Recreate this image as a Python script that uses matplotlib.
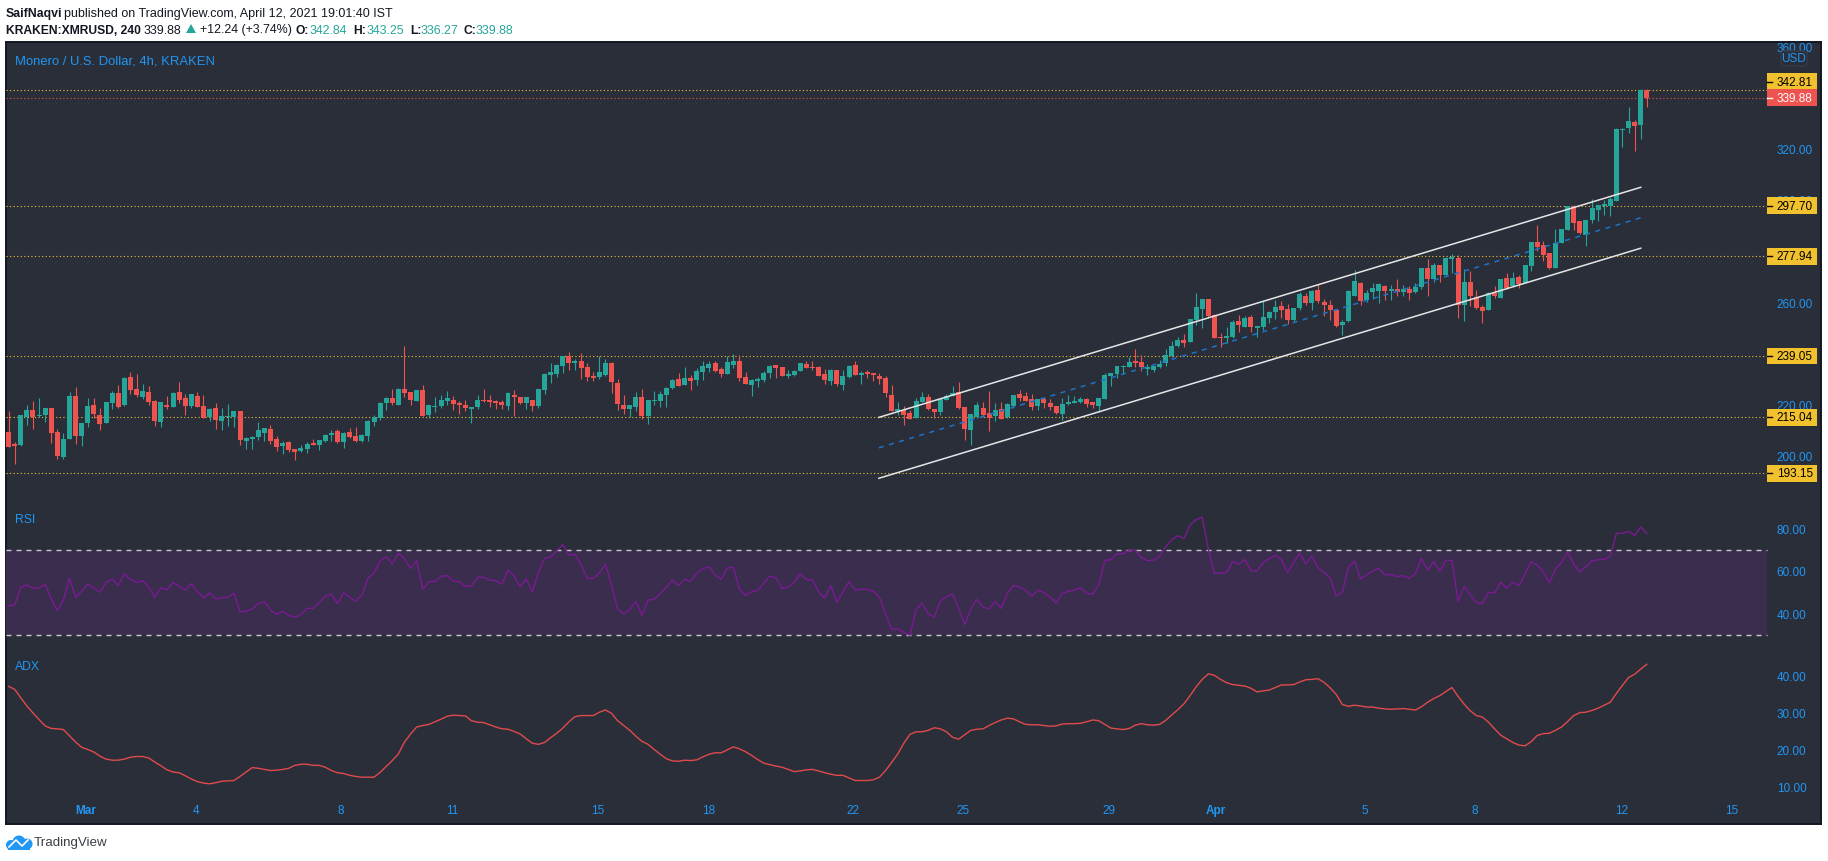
import numpy as np
import matplotlib
matplotlib.use("Agg")
import matplotlib.pyplot as plt
from matplotlib.patches import Rectangle, Circle, Polygon, FancyBboxPatch

plt.rcParams['font.family'] = ['Liberation Sans', 'DejaVu Sans']

# XMR/USD 4h candles
opens = [209.1,204.6,204.2,215.0,217.9,215.5,215.9,218.7,209.3,199.5,206.5,223.3,207.7,212.8,219.8,215.9,212.8,220.6,224.5,219.8,
230.8,226.1,223.0,224.9,221.4,213.2,219.8,219.0,224.9,222.6,219.4,223.3,219.4,215.1,218.7,213.6,215.1,215.1,217.5,205.8,
206.5,207.3,208.9,210.5,206.5,203.8,205.4,202.6,201.9,202.6,205.0,204.2,205.8,208.1,209.7,205.4,209.3,207.7,205.8,207.7,
213.2,214.8,220.6,222.6,219.8,226.1,224.9,221.4,225.7,215.9,219.2,219.4,221.4,221.8,220.6,219.8,218.3,219.0,221.8,221.8,
221.4,221.0,219.4,223.7,223.0,220.6,221.8,219.4,225.7,231.6,231.9,235.1,239.0,236.2,237.0,234.7,231.2,230.8,231.6,236.2,
228.4,219.8,218.3,219.0,223.0,215.5,221.4,221.4,223.7,226.5,230.0,227.7,230.4,229.6,232.7,234.3,236.2,233.9,232.0,235.5,
237.0,230.8,227.7,229.2,229.6,232.3,235.5,234.7,231.2,231.6,233.1,235.8,234.7,234.7,232.0,229.2,233.5,227.7,230.8,235.5,
231.6,232.7,232.3,231.2,230.4,223.7,217.5,217.9,216.7,214.8,221.0,223.0,218.3,217.1,221.8,223.3,224.9,219.0,210.1,215.1,
218.7,216.7,215.5,218.3,215.1,219.4,224.1,223.3,222.2,219.4,222.2,220.6,219.4,216.3,220.2,220.6,221.0,222.2,221.0,219.4,
222.2,231.2,231.9,234.7,234.7,237.0,236.6,233.9,233.5,234.7,236.2,239.0,242.9,245.2,244.5,253.0,257.3,261.3,255.0,246.4,
246.0,246.4,252.6,250.3,254.2,249.9,250.3,253.8,256.2,258.5,257.3,253.0,257.7,262.4,259.7,264.8,260.1,258.9,257.0,251.1,
252.6,262.4,267.5,260.9,264.0,264.4,266.3,264.4,265.2,264.0,265.2,264.0,265.9,273.4,269.1,274.5,270.6,276.9,277.3,258.9,
267.9,262.0,258.1,257.0,263.6,261.6,269.5,266.3,269.8,267.5,274.1,283.5,282.3,279.2,273.4,283.1,288.2,297.5,291.7,286.3,
292.1,296.0,297.6,297.6,299.5,327.4,328.1,330.4,329.3,342.84]
highs = [217.5,205.4,215.9,219.8,221.4,222.6,218.7,218.7,210.5,208.9,224.9,226.9,212.8,222.6,222.6,218.7,221.0,225.3,227.6,230.8,
232.7,232.0,228.0,227.3,221.8,221.0,223.3,224.9,228.8,224.1,224.1,224.9,223.7,218.7,220.6,218.7,220.2,217.5,217.5,207.3,
207.7,213.2,210.8,212.0,207.7,205.8,205.6,202.6,204.2,205.4,206.5,206.2,208.5,210.1,210.5,209.3,210.8,211.2,208.5,214.0,
215.9,221.0,223.0,226.1,226.5,242.9,224.9,225.7,227.6,219.8,223.0,223.7,225.3,223.3,221.4,221.8,219.0,223.7,226.1,223.7,
221.8,221.8,224.9,225.7,223.0,223.0,221.8,226.1,232.3,236.2,235.8,239.0,240.5,237.8,240.1,236.2,232.7,239.0,237.8,236.6,
230.0,223.7,219.8,224.9,226.1,221.8,225.3,225.3,226.9,230.0,232.3,234.7,231.6,234.3,237.0,237.0,237.0,234.7,239.0,239.8,
239.4,232.7,230.0,230.8,233.1,235.5,235.5,234.7,233.5,233.5,236.2,237.0,237.0,235.1,233.9,233.9,233.5,233.5,235.5,237.0,
233.1,233.5,232.3,232.3,231.2,227.7,221.0,219.4,217.9,222.6,224.9,224.1,218.3,222.2,224.1,227.3,228.8,219.0,216.3,221.0,
221.0,225.3,220.6,221.0,220.6,223.7,225.7,224.9,224.1,222.2,223.0,222.2,219.4,222.6,223.7,223.3,223.0,222.6,221.0,222.6,
232.3,232.3,235.1,235.5,238.6,241.7,239.4,235.8,235.1,237.4,241.7,244.8,246.4,247.6,253.4,263.6,261.3,261.3,255.4,248.0,
250.3,253.0,255.0,254.6,255.0,250.7,260.5,256.6,260.9,260.5,259.3,257.7,264.0,263.6,264.8,267.1,261.2,260.9,257.0,253.0,
264.8,272.6,267.9,264.8,267.5,267.5,266.7,266.7,269.1,266.7,266.3,267.5,273.4,276.9,275.3,274.5,277.7,278.8,278.4,273.0,
272.2,264.8,258.9,264.0,266.3,269.1,271.4,271.8,270.6,274.5,283.5,290.2,283.9,279.2,288.6,288.6,297.5,298.0,291.7,292.1,
300.3,297.9,299.9,301.1,328.1,328.1,336.3,331.2,343.3,343.25]
lows = [203.5,196.8,203.9,212.0,210.5,215.1,213.2,205.0,198.7,198.7,206.5,204.6,203.8,211.2,214.8,210.1,212.8,218.3,218.7,219.4,
224.1,223.0,222.2,219.8,211.6,211.2,218.3,219.0,220.6,215.9,218.7,219.0,214.8,213.6,210.5,210.1,211.6,211.2,204.2,202.6,
202.6,206.2,205.8,204.6,201.9,200.7,201.5,198.3,201.5,201.1,204.2,202.3,205.4,205.8,205.0,203.0,206.9,205.4,205.4,205.8,
211.6,214.0,217.9,219.8,219.8,223.0,219.8,221.4,215.5,214.8,217.1,218.7,219.8,217.9,216.3,217.5,212.8,218.3,221.0,219.0,
218.3,218.3,217.9,215.5,220.2,218.3,217.5,218.7,224.1,228.4,230.8,232.3,233.5,233.5,230.0,229.2,229.2,230.0,231.2,224.5,
217.9,216.3,215.1,217.5,214.4,212.4,219.8,219.0,219.0,226.1,227.3,227.7,225.7,227.7,229.6,232.7,232.7,230.8,232.0,234.3,
229.2,228.0,223.3,226.9,228.8,230.4,230.4,231.2,230.4,231.2,233.1,234.3,233.5,231.2,228.0,227.7,227.3,225.7,230.4,231.6,
228.0,230.4,229.2,228.0,223.0,217.5,215.9,212.0,214.4,214.8,221.0,217.9,214.8,215.9,221.8,223.3,218.3,206.2,204.2,214.8,
215.1,209.7,213.6,214.4,214.8,218.7,221.4,221.4,217.9,217.9,218.7,217.9,216.3,214.0,219.8,220.6,220.6,219.0,218.7,217.1,
222.2,227.3,230.4,232.3,234.7,234.7,233.1,231.6,232.7,234.3,235.1,238.6,242.5,242.5,244.5,251.1,249.9,254.2,246.0,242.5,
244.1,246.0,248.3,250.3,248.3,246.4,249.1,251.9,253.4,253.8,251.5,252.6,256.9,258.9,257.0,259.7,254.6,253.0,250.3,247.2,
252.3,262.4,258.9,260.1,261.2,259.7,260.9,260.9,262.4,262.4,260.9,263.6,265.2,262.4,267.9,267.9,270.6,271.4,253.8,252.6,
258.5,257.3,251.9,257.0,261.6,261.6,265.2,265.9,265.5,267.5,272.2,280.0,276.1,273.0,273.4,283.1,288.2,288.2,286.7,282.0,
291.0,291.7,294.1,293.7,299.5,320.7,326.1,319.1,323.8,336.27]
closes = [203.5,203.8,215.9,217.9,215.1,215.9,218.7,208.9,199.9,206.5,223.3,207.7,212.8,219.4,216.3,212.4,221.0,224.5,219.1,230.4,
225.7,223.7,225.3,221.0,213.6,221.0,219.0,224.5,221.8,219.4,224.1,219.0,214.8,218.3,214.0,215.5,215.5,217.5,206.2,206.9,
207.3,210.1,210.8,205.8,203.4,205.0,202.3,201.5,203.0,204.6,204.2,206.2,208.1,208.9,205.4,208.9,207.3,205.8,208.1,213.6,
215.1,220.6,222.6,220.6,226.1,224.5,221.8,225.7,215.5,219.8,219.4,221.8,222.6,220.2,219.8,218.7,219.0,221.8,221.4,221.0,
220.6,219.8,224.5,223.0,220.6,223.0,219.4,226.1,231.9,232.7,235.5,239.0,236.2,237.0,234.3,230.8,230.4,232.7,236.2,228.8,
220.2,218.3,219.8,223.0,215.5,221.8,221.8,224.1,226.5,229.6,227.3,230.4,229.2,233.1,235.1,235.8,233.1,232.0,236.6,237.0,
230.4,228.0,229.6,230.0,232.3,235.1,234.3,231.2,232.0,233.1,236.2,234.3,234.3,231.2,229.6,233.5,228.0,231.2,235.1,231.6,
232.3,232.0,231.6,230.0,224.5,217.5,218.3,215.9,214.4,221.4,223.0,218.3,217.1,222.2,223.3,224.5,218.7,210.5,216.3,219.8,
215.9,214.8,217.9,214.4,220.2,223.7,222.6,221.4,219.0,222.2,220.6,219.0,216.7,220.2,221.0,221.4,222.2,220.2,219.8,222.6,
231.6,232.3,235.1,235.1,236.6,236.2,234.7,234.7,235.1,235.8,239.4,242.9,245.2,244.1,253.4,258.1,261.3,254.6,246.0,246.0,
246.8,252.3,251.1,253.8,250.3,250.7,254.2,256.2,258.1,257.0,253.0,257.7,263.2,259.7,264.4,260.5,258.9,257.0,250.7,252.3,
264.4,268.3,260.5,263.6,265.5,267.1,264.4,265.2,264.0,265.2,263.6,265.9,273.4,269.1,274.5,270.6,277.3,277.7,258.9,267.9,
262.4,257.7,256.6,263.6,262.4,269.1,265.5,269.5,267.1,274.5,283.5,281.6,278.4,273.4,283.1,288.6,297.5,291.0,287.0,292.1,
296.8,297.9,298.4,300.3,327.7,327.8,330.8,328.8,342.9,339.88]

rsi = [43.6,44.0,52.3,53.4,51.8,52.0,53.7,46.8,41.3,46.3,56.5,47.6,50.4,53.8,52.1,49.9,54.6,56.2,53.1,58.7,
55.9,54.5,55.4,52.3,47.6,52.0,51.2,54.5,52.9,50.9,54.0,50.2,47.2,49.6,46.8,47.4,47.6,49.6,40.8,41.0,
42.1,44.7,45.5,41.6,39.6,41.0,39.0,38.3,39.4,42.4,42.4,45.1,48.0,49.0,44.7,49.6,47.6,45.7,48.7,56.5,
59.0,64.7,66.7,63.4,68.3,65.8,61.1,65.0,51.2,55.0,55.0,57.5,57.8,55.2,55.0,52.7,52.9,57.0,57.0,55.7,
55.4,53.7,60.4,57.5,52.6,56.2,50.2,59.3,65.9,66.5,69.5,72.4,67.5,67.8,62.9,56.5,56.5,59.0,63.1,53.4,
42.1,39.9,41.8,45.7,39.1,46.3,46.6,49.4,52.3,55.7,53.1,56.0,55.2,59.0,61.1,62.0,58.2,56.0,61.4,61.7,
51.5,48.4,50.2,50.9,54.3,57.6,56.7,51.8,52.4,54.6,58.7,55.9,55.9,50.1,47.1,53.1,45.2,50.2,55.1,51.0,
51.3,51.3,50.4,47.6,39.7,32.5,32.7,31.1,29.7,41.8,44.9,39.7,38.3,45.7,47.9,49.0,42.4,34.7,42.2,46.6,
43.0,42.1,45.7,42.4,49.4,53.2,52.3,50.9,48.0,51.0,49.8,47.7,44.9,49.4,50.4,51.0,52.1,49.4,49.0,53.4,
65.0,65.3,68.1,68.1,69.8,69.8,66.4,64.8,65.1,66.9,71.4,74.7,76.6,75.2,81.6,84.1,85.4,70.3,58.9,58.9,
59.3,64.5,63.1,65.4,60.1,60.0,63.9,65.8,67.3,65.4,59.3,63.9,68.3,63.3,67.0,61.7,59.2,56.8,48.3,49.9,
61.8,64.7,56.2,58.2,60.0,61.2,58.1,58.4,57.3,57.8,56.5,58.7,65.9,60.3,64.4,59.8,65.0,65.0,45.7,52.7,
48.7,45.1,44.6,49.9,49.6,54.8,51.8,54.6,53.1,58.5,64.4,62.8,59.5,54.5,60.9,64.0,68.7,63.3,59.5,62.0,
64.7,65.3,65.4,66.9,77.7,77.7,78.6,76.7,80.7,77.7]

adx = [37.1,36.3,34.0,31.8,29.9,28.1,26.4,25.7,25.6,25.4,23.7,22.0,20.6,20.0,19.3,18.2,17.4,17.1,17.1,17.4,
17.9,18.1,18.1,17.7,16.6,15.6,14.5,13.9,13.7,12.9,12.0,11.3,10.9,10.7,11.0,11.4,11.5,11.6,12.7,13.9,
15.1,14.9,14.6,14.3,14.4,14.6,14.9,15.7,16.0,16.0,15.7,15.7,15.2,14.3,13.7,13.5,13.0,12.7,12.5,12.5,
12.5,13.8,15.4,17.0,18.8,22.0,24.2,26.1,26.5,26.8,27.5,28.2,29.0,29.3,29.2,29.1,27.8,27.4,27.3,26.7,
26.1,25.6,25.5,24.9,24.2,22.9,21.7,21.4,21.9,23.2,24.4,25.8,27.5,28.9,29.2,29.2,29.2,30.1,30.7,29.8,
27.8,26.5,25.2,23.6,22.2,21.4,20.0,18.7,17.5,16.9,16.8,17.1,17.0,17.2,18.0,18.7,19.1,19.1,19.9,20.7,
20.2,19.4,18.4,17.3,16.3,15.9,15.5,15.2,14.6,14.0,14.2,14.5,14.6,14.2,13.7,13.3,13.0,13.0,12.3,11.6,
11.6,11.6,11.8,12.5,14.3,16.5,18.8,21.7,24.1,24.8,24.8,25.2,25.9,25.6,24.8,23.3,22.8,24.0,25.2,25.5,
25.6,26.5,27.3,28.0,28.5,28.3,27.5,26.8,26.7,26.7,26.5,26.3,26.4,26.9,27.0,27.0,27.1,27.5,28.0,27.8,
26.8,25.8,25.6,25.4,25.7,26.6,27.0,26.7,26.6,26.8,27.9,29.4,30.8,32.4,34.6,37.0,39.0,40.5,40.1,39.0,
38.1,37.6,37.4,37.2,36.6,35.6,35.9,36.1,36.8,37.5,37.5,37.6,38.3,38.9,39.0,39.2,38.2,36.7,34.9,32.2,
31.7,32.0,31.8,31.5,31.5,31.2,31.0,30.9,31.0,31.1,30.9,30.7,31.6,32.8,33.8,34.6,35.7,36.8,34.4,32.3,
30.5,29.2,28.8,27.4,25.6,23.9,22.9,21.9,21.2,21.0,22.1,23.8,24.3,24.4,25.2,26.1,27.6,29.2,30.0,30.1,
30.6,31.2,32.0,32.8,35.2,37.4,39.5,40.4,41.8,43.1]

date_labels = ['Mar','4','8','11','15','18','22','25','29','Apr','5','8','12','15']
date_bars = [12.6,30.7,54.6,72.8,96.8,114.9,138.7,156.7,180.7,198.2,222.7,240.8,264.9,283.0]

price_ticks = [200,220,240,260,280,300,320,360]
levels = [342.81,297.70,277.94,239.05,215.04,193.15]
last_close = 339.88
rsi_ticks = [40,60,80]
adx_ticks = [10,20,30,40]

# channel: bar index and price at both ends
chan_bars = [142.9,268.0]
chan_upper = [215.0,304.9]
chan_mid = [203.1,293.0]
chan_lower = [191.2,281.1]

BG = '#2a2e39'
GREEN = '#26a69a'
RED = '#ef5350'
BLUE = '#2196f3'
YELLOW = '#f2c12e'
W, H = 1828, 862
LEFT, RIGHT, TOP, BOTTOM = 6, 1821, 43, 825

def box(y0, y1):
    return [LEFT/W, 1-y1/H, (RIGHT-LEFT)/W, (y1-y0)/H]

fig = plt.figure(figsize=(W/100, H/100), dpi=100, facecolor='white')

panel = fig.add_axes(box(TOP, BOTTOM), facecolor=BG)
panel.set_xticks([])
panel.set_yticks([])
for s in panel.spines.values():
    s.set_linewidth(1.4)
    s.set_color('#131722')

ax = fig.add_axes(box(TOP, 500), facecolor='none')
ax_rsi = fig.add_axes(box(500, 655), facecolor='none')
ax_adx = fig.add_axes(box(655, BOTTOM), facecolor='none')

xlim = (-0.43, 297.6)
label_bar = 288.7  # levels and the RSI band stop at the price labels
for a in (ax, ax_rsi, ax_adx):
    a.set_xlim(*xlim)
    for s in a.spines.values():
        s.set_visible(False)
    a.yaxis.tick_right()
    a.tick_params(axis='y', length=0, pad=-32, labelcolor=BLUE, labelsize=8.5)
    a.set_xticks([])
ax.set_ylim(183.1, 361.68)
ax_rsi.set_ylim(20.9, 93.86)
ax_adx.set_ylim(-0.19, 45.88)

# candles
bars = np.arange(len(opens))
o, h, l, c = map(np.array, (opens, highs, lows, closes))
colors = [GREEN if cc >= oo else RED for oo, cc in zip(o, c)]
ax.vlines(bars, l, h, colors=colors, linewidth=0.8, zorder=2)
ax.bar(bars, np.abs(c-o), bottom=np.minimum(o, c), width=0.82, color=colors, linewidth=0, zorder=3)

# channel
ax.plot(chan_bars, chan_upper, color='#e6e6e6', lw=1.1, zorder=5)
ax.plot(chan_bars, chan_lower, color='#e6e6e6', lw=1.1, zorder=5)
ax.plot(chan_bars, chan_mid, color='#1e73c8', lw=1.1, ls=(0, (3.3, 3.6)), zorder=5)

# horizontal levels and their labels
ax.hlines(levels, xlim[0], label_bar, colors='#f4c430', linewidth=0.8, linestyles=(0, (1, 2.2)), zorder=1)
ax.hlines(last_close, xlim[0], label_bar, colors=RED, linewidth=0.8, linestyles=(0, (1, 2.2)), zorder=1)

ax.set_yticks(price_ticks)
ax.set_yticklabels(['%.2f' % v for v in price_ticks])
for t in ax.get_yticklabels():
    t.set_clip_on(True)
    t.set_clip_box(panel.bbox)

box_h = 6.5
for i, lev in enumerate(levels):
    yc = lev + (3.4 if i == 0 else 0)  # first label is pushed up by the last price label
    ax.add_patch(Rectangle((label_bar, yc-box_h/2), 8.2, box_h, facecolor=YELLOW, edgecolor='none', zorder=6))
    ax.plot([label_bar, label_bar+0.85], [yc, yc], color='black', lw=1, zorder=7)
    ax.text(label_bar+1.65, yc, '%.2f' % lev, color='black', fontsize=8.5, va='center', ha='left', zorder=7)
ax.add_patch(Rectangle((label_bar, last_close-box_h/2), 8.2, box_h, facecolor=RED, edgecolor='none', zorder=6))
ax.plot([label_bar, label_bar+0.85], [last_close, last_close], color='white', lw=1, zorder=7)
ax.text(label_bar+1.65, last_close, '%.2f' % last_close, color='white', fontsize=8.5, va='center', ha='left', zorder=7)

# RSI
ax_rsi.fill_between([xlim[0], label_bar], 30, 70, color='#3a2d4e', linewidth=0, zorder=1)
for lvl in (30, 70):
    ax_rsi.hlines(lvl, xlim[0], label_bar, colors='#c9c9d1', linewidth=1.0, linestyles=(0, (3.6, 3.6)), zorder=2)
ax_rsi.plot(np.arange(len(rsi)), rsi, color='#7b1a94', lw=1.0, zorder=3)
ax_rsi.set_yticks(rsi_ticks)
ax_rsi.set_yticklabels(['%.2f' % v for v in rsi_ticks])

# ADX
ax_adx.plot(np.arange(len(adx)), adx, color='#e04a4c', lw=1.0, zorder=3)
ax_adx.set_yticks(adx_ticks)
ax_adx.set_yticklabels(['%.2f' % v for v in adx_ticks])
ax_adx.set_xticks(date_bars)
ax_adx.set_xticklabels(date_labels)
ax_adx.tick_params(axis='x', length=0, pad=-14.5, labelcolor=BLUE, labelsize=8.5)
for t in ax_adx.get_xticklabels():
    if t.get_text() in ('Mar', 'Apr'):
        t.set_fontweight('bold')

# overlay in pixels for the header, watermark texts and logo
top = fig.add_axes([0, 0, 1, 1], facecolor='none')
top.set_xlim(0, W)
top.set_ylim(H, 0)
top.axis('off')

def put(x, y, s, color='#131722', weight='normal', size=9.0):
    top.text(x, y, s, color=color, fontweight=weight, fontsize=size, va='center', ha='left')

put(6, 13.5, 'SaifNaqvi', weight='bold', size=8.8)
put(64, 13.5, 'published on TradingView.com, April 12, 2021 19:01:40 IST')
put(6, 30.5, 'KRAKEN:XMRUSD, 240', weight='bold', size=8.7)
put(144, 30.5, '339.88', size=8.9)
top.add_patch(Polygon([[186, 34], [196, 34], [191, 25]], facecolor=GREEN, edgecolor='none'))
put(200, 30.5, '+12.24 (+3.74%)', size=8.9)
for x, lab, x2, val in [(296, 'O:', 310, '342.84'), (353, 'H:', 367, '343.25'),
                        (410, 'L:', 421, '336.27'), (464, 'C:', 476, '339.88')]:
    put(x, 30.5, lab, weight='bold', size=8.7)
    put(x2, 30.5, val, color=GREEN, size=8.9)

put(15, 61, 'Monero / U.S. Dollar, 4h, KRAKEN', color=BLUE, size=9.4)
put(15, 520.5, 'RSI', color=BLUE, size=8.7)
put(15, 667, 'ADX', color=BLUE, size=8.7)

# USD box over the clipped top tick
top.add_patch(FancyBboxPatch((1781, 52), 26, 15, boxstyle='round,pad=0,rounding_size=3',
                             facecolor=BG, edgecolor='#363a45', linewidth=1, zorder=5))
top.text(1794, 59.5, 'USD', color=BLUE, fontsize=8.5, ha='center', va='center', zorder=6)

# TradingView logo
for cx, cy, r in [(11, 846, 5), (19, 843, 6.5), (27, 845, 5.5)]:
    top.add_patch(Circle((cx, cy), r, facecolor=BLUE, edgecolor='none'))
top.add_patch(Rectangle((8, 845), 22, 6, facecolor=BLUE, edgecolor='none'))
top.plot([9, 16, 22, 28], [848, 841, 847, 841], color='white', lw=1.2)
put(34, 843, 'TradingView', color='#3a3e48', size=9.6)

fig.savefig('out.png', dpi=100, facecolor='white')
